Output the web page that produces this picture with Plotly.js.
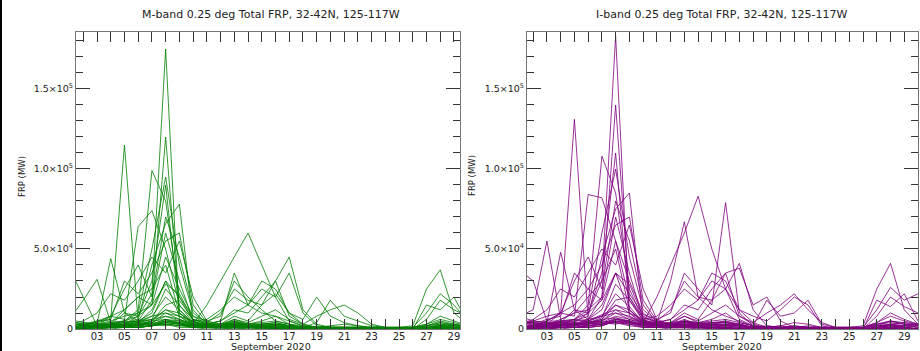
<!DOCTYPE html>
<html>
<head>
<meta charset="utf-8">
<script src="https://cdn.plot.ly/plotly-3.0.1.min.js"></script>
<style>html,body{margin:0;padding:0;background:#fff;}#chart{width:920px;height:351px;}</style>
</head>
<body>
<div id="chart"></div>
<script>
// Days of September 2020 (one value per day), FRP in units of 10^3 MW
const days = [1,2,3,4,5,6,7,8,9,10,11,12,13,14,15,16,17,18,19,20,21,22,23,24,25,26,27,28,29,30];
const tickDays = [2,3,4,5,6,7,8,9,10,11,12,13,14,15,16,17,18,19,20,21,22,23,24,25,26,27,28,29];
const tickDayLabels = ['','03','','05','','07','','09','','11','','13','','15','','17','','19','','21','','23','','25','','27','','29'];
const yTickVals = [0,50,100,150];
const yTickLabels = ['0','5.0×10<sup>4</sup>','1.0×10<sup>5</sup>','1.5×10<sup>5</sup>'];

// M-band grid-cell series
const M01 = [0,1,2,1,3,8,22,175,6,2,1,0,1,0,0,0,0,0,0,0,0,0,0,0,0,0,0,1,0,0];
const M02 = [2,3,4,6,115,4,12,30,8,2,1,1,0,1,0,0,0,0,0,0,0,0,0,0,0,0,1,2,1,0];
const M03 = [1,1,2,3,5,10,15,120,12,4,2,1,3,2,1,0,0,0,0,0,0,0,0,0,0,0,0,1,0,0];
const M04 = [38,20,2,3,2,1,2,3,1,1,0,0,0,0,0,0,0,0,0,0,0,0,0,0,0,0,0,0,0,0];
const M05 = [6,18,31,4,12,20,25,40,10,3,1,1,2,1,1,0,0,0,0,0,0,0,0,0,0,1,2,5,3,1];
const M06 = [2,4,3,44,10,5,18,60,30,5,2,1,4,2,1,1,0,0,0,0,0,0,0,0,0,0,0,2,1,0];
const M07 = [1,2,5,8,6,64,74,50,15,4,3,2,5,3,2,1,1,0,0,0,0,0,0,0,0,0,1,3,2,1];
const M08 = [0,1,3,4,5,12,99,80,20,5,2,1,1,1,0,0,0,0,0,0,0,0,0,0,0,0,0,0,0,0];
const M09 = [1,1,2,3,10,8,30,90,10,3,1,2,3,1,1,0,0,0,0,0,0,0,0,0,0,0,0,1,0,0];
const M10 = [0,1,2,2,4,6,40,66,78,4,3,2,2,1,1,1,0,0,0,0,0,0,0,0,0,0,0,1,1,0];
const M11 = [1,2,3,5,8,10,50,95,40,10,4,3,2,2,1,0,0,0,0,0,0,0,0,0,0,0,0,1,0,0];
const M12 = [3,5,10,22,18,30,45,35,55,20,5,3,5,2,1,0,0,0,0,0,0,0,0,0,0,0,0,0,0,0];
const M13 = [1,2,4,8,25,40,20,70,45,12,3,2,2,1,1,1,0,0,0,0,0,0,0,0,0,0,0,0,0,0];
const M14 = [2,3,5,6,30,22,35,55,60,15,4,2,3,2,1,1,0,0,0,0,0,0,0,0,0,0,1,2,1,0];
const M15 = [0,1,2,3,5,8,15,45,25,8,3,5,10,15,30,25,10,3,1,0,0,0,0,0,0,0,0,1,0,0];
const M16 = [1,1,2,3,4,5,8,20,12,3,15,30,45,60,40,20,5,2,1,1,0,0,0,0,0,0,0,0,0,0];
const M17 = [0,1,1,2,3,4,6,25,15,6,3,5,35,15,10,8,5,2,1,0,0,0,0,0,0,0,0,1,0,0];
const M18 = [0,0,1,2,3,5,10,30,20,8,5,8,30,20,12,5,3,1,1,0,0,0,0,0,0,0,0,1,0,0];
const M19 = [0,1,1,2,2,3,5,15,18,6,4,10,25,18,15,30,8,3,1,1,0,0,0,0,0,0,1,2,1,0];
const M20 = [0,0,1,1,2,3,4,10,8,5,6,12,20,15,25,20,35,10,2,1,0,0,0,0,0,0,0,1,0,0];
const M21 = [0,1,1,1,2,3,5,12,10,4,3,5,12,10,20,30,45,12,3,1,1,0,0,0,0,0,0,0,0,0];
const M22 = [1,1,1,2,2,3,4,8,6,3,2,3,8,5,15,22,10,6,20,8,4,2,1,0,0,0,0,1,0,0];
const M23 = [0,0,1,1,1,2,3,6,5,2,2,3,6,4,8,12,6,3,8,12,15,10,3,1,0,0,0,0,0,0];
const M24 = [0,0,0,1,1,1,2,5,4,2,1,2,4,3,5,8,3,1,4,18,8,5,2,1,0,0,0,1,0,0];
const M25 = [0,0,0,1,1,1,2,4,3,1,1,1,3,2,3,4,2,1,1,2,3,2,1,1,1,2,25,37,10,3];
const M26 = [0,0,1,1,1,2,3,6,4,2,1,1,2,2,2,3,2,1,1,1,1,1,0,0,0,1,10,22,15,5];
const M27 = [0,0,0,0,1,1,2,5,3,1,1,1,2,1,2,2,1,1,0,1,1,1,0,0,0,0,6,18,12,8];
const M28 = [1,0,0,1,1,1,2,4,3,1,1,1,2,1,1,2,1,0,0,0,0,0,0,0,0,0,15,12,20,4];
const M29 = [0,1,1,2,3,4,6,12,8,3,2,2,4,3,3,4,2,1,1,1,1,0,0,0,0,1,3,8,5,2];
const M30 = [5,3,2,8,12,20,15,28,22,6,3,2,6,3,4,5,3,2,1,1,1,1,0,0,0,0,0,2,1,0];
const ML1 = [3,2,2,3,2,3,2,4,3,2,2,2,3,2,2,2,1,1,1,1,1,1,1,1,1,1,2,3,2,2];
const ML2 = [2,3,1,2,3,2,4,3,2,3,1,2,2,3,1,2,2,1,1,1,1,1,1,1,1,1,1,2,3,1];
const ML3 = [1,1,3,2,1,4,3,2,4,1,2,1,1,2,2,1,1,0,1,0,1,0,1,0,1,0,1,1,1,2];
const ML4 = [4,2,2,1,2,2,5,6,3,2,3,2,2,1,3,3,2,1,0,1,0,1,0,1,0,1,2,4,2,1];
const ML5 = [2,1,1,1,1,1,2,3,2,1,1,1,1,1,1,1,1,1,1,1,1,1,1,1,1,1,1,1,1,1];
const ML6 = [6,4,3,3,4,5,6,8,5,3,2,3,4,3,3,3,2,1,1,1,1,1,0,0,0,1,2,4,3,2];
const ML7 = [1,2,2,2,3,3,3,5,4,2,2,2,3,2,2,2,1,1,1,1,1,1,1,1,1,1,1,2,2,1];
const ML8 = [3,3,2,4,5,4,8,10,6,3,2,2,3,2,2,3,2,1,1,1,1,1,1,1,1,1,3,6,4,2];

// I-band grid-cell series
const I01 = [1,2,3,2,4,10,30,183,8,3,1,1,1,0,0,0,0,0,0,0,0,0,0,0,0,0,0,1,0,0];
const I02 = [3,5,8,10,131,6,15,35,10,3,2,1,1,1,0,0,0,0,0,0,0,0,0,0,0,0,1,2,1,0];
const I03 = [1,2,3,4,6,12,20,140,20,5,2,1,3,2,1,0,0,0,0,0,0,0,0,0,0,0,0,1,0,0];
const I04 = [37,30,5,5,3,2,3,4,2,1,1,0,0,0,0,0,0,0,0,0,0,0,0,0,0,0,0,0,0,0];
const I05 = [8,12,55,6,10,20,30,50,12,4,2,1,2,1,1,0,0,0,0,0,0,0,0,0,0,1,2,5,3,1];
const I06 = [2,5,4,48,12,6,20,70,35,6,2,1,5,2,1,1,0,0,0,0,0,0,0,0,0,0,0,3,1,0];
const I07 = [1,2,5,10,8,84,82,55,18,5,4,3,6,3,2,1,1,0,0,0,0,0,0,0,0,0,1,3,2,1];
const I08 = [0,1,3,5,6,15,108,85,25,6,3,1,1,1,0,0,0,0,0,0,0,0,0,0,0,0,0,0,0,0];
const I09 = [1,1,2,4,12,10,35,110,12,4,1,2,3,1,1,0,0,0,0,0,0,0,0,0,0,0,0,1,0,0];
const I10 = [0,1,2,3,5,8,45,75,85,5,3,2,2,1,1,1,0,0,0,0,0,0,0,0,0,0,0,1,1,0];
const I11 = [1,2,3,6,10,12,60,100,45,12,5,3,2,2,1,0,0,0,0,0,0,0,0,0,0,0,0,1,0,0];
const I12 = [3,6,12,25,20,35,50,40,65,25,6,3,5,2,1,0,0,0,0,0,0,0,0,0,0,0,0,0,0,0];
const I13 = [1,2,5,10,30,45,25,80,55,15,4,2,2,1,1,1,0,0,0,0,0,0,0,0,0,0,0,0,0,0];
const I14 = [2,3,6,8,35,25,40,65,70,18,5,2,3,2,1,1,0,0,0,0,0,0,0,0,0,0,1,2,1,0];
const I15 = [0,1,2,3,6,10,18,55,30,10,4,6,12,18,35,30,12,4,1,0,0,0,0,0,0,0,0,1,0,0];
const I16 = [0,1,2,3,4,5,8,22,14,4,20,40,60,83,50,25,6,2,1,1,0,0,0,0,0,0,0,0,0,0];
const I17 = [0,1,1,2,3,4,7,28,18,7,4,30,67,20,12,8,5,2,1,0,0,0,0,0,0,0,0,1,0,0];
const I18 = [0,0,1,2,3,6,12,35,22,9,6,10,35,25,15,79,10,2,1,0,0,0,0,0,0,0,0,1,0,0];
const I19 = [0,1,1,2,2,4,6,18,20,7,5,12,30,20,18,35,8,3,1,1,0,0,0,0,0,0,1,2,1,0];
const I20 = [0,0,1,1,2,3,5,12,10,6,8,15,25,18,30,25,41,12,2,1,0,0,0,0,0,0,0,1,0,0];
const I21 = [0,1,1,1,2,4,6,15,12,5,4,6,15,12,25,35,38,15,20,5,1,0,0,0,0,0,0,0,0,0];
const I22 = [1,1,1,2,3,4,5,10,8,4,3,4,10,6,18,25,12,8,5,12,20,15,2,0,0,0,0,1,0,0];
const I23 = [0,0,1,1,1,2,4,8,6,3,2,4,8,5,10,15,8,4,10,15,22,12,4,1,0,0,0,0,0,0];
const I24 = [0,0,0,1,1,2,3,6,5,2,1,3,5,4,6,10,4,2,18,8,10,18,3,1,0,0,0,1,0,0];
const I25 = [0,0,0,1,1,1,2,5,4,2,1,2,4,3,4,5,3,1,1,2,4,3,1,1,1,2,25,41,12,3];
const I26 = [0,0,1,1,1,2,3,7,5,2,1,1,3,2,2,3,2,1,1,1,1,1,0,0,0,1,12,26,18,22];
const I27 = [0,0,0,0,1,1,2,6,4,1,1,1,2,1,2,2,1,1,0,1,1,1,0,0,0,0,8,20,14,10];
const I28 = [1,0,0,1,1,1,2,5,3,1,1,1,2,1,1,2,1,0,0,0,0,0,0,0,0,0,18,14,22,5];
const I29 = [0,1,1,2,3,5,8,15,10,4,2,2,5,3,3,5,2,1,1,1,1,0,0,0,0,1,4,10,6,3];
const I30 = [6,4,3,10,15,25,18,35,28,8,4,3,8,4,5,6,4,2,1,1,1,1,0,0,0,0,0,3,1,0];
const IL1 = [4,3,3,4,3,4,3,5,4,3,3,3,4,3,3,3,2,1,2,1,2,1,1,1,1,1,3,4,3,3];
const IL2 = [3,4,2,3,4,3,5,4,3,4,2,3,3,4,2,3,3,1,1,2,1,2,1,1,1,1,2,3,4,2];
const IL3 = [2,2,4,3,2,5,4,3,5,2,3,2,2,3,3,2,2,0,1,0,1,0,1,0,1,0,2,2,2,3];
const IL4 = [5,3,3,2,3,3,6,7,4,3,4,3,3,2,4,4,3,1,0,1,0,1,0,1,0,1,3,5,3,2];
const IL5 = [2,2,2,2,2,2,3,4,3,2,2,2,2,2,2,2,2,1,1,1,1,1,1,1,1,1,2,2,2,2];
const IL6 = [8,5,4,4,5,6,8,10,6,4,3,4,5,4,4,4,3,1,1,1,2,1,0,0,0,1,3,5,4,3];
const IL7 = [1,2,2,3,3,3,4,6,5,3,2,3,3,2,3,2,2,1,1,1,1,1,1,1,1,1,2,3,2,1];
const IL8 = [4,4,3,5,6,5,9,12,7,4,3,3,4,3,3,4,2,1,1,1,1,1,1,1,1,1,4,8,5,3];

const mSeries = [M01,M02,M03,M04,M05,M06,M07,M08,M09,M10,M11,M12,M13,M14,M15,M16,M17,M18,M19,M20,M21,M22,M23,M24,M25,M26,M27,M28,M29,M30,ML1,ML2,ML3,ML4,ML5,ML6,ML7,ML8];
const iSeries = [I01,I02,I03,I04,I05,I06,I07,I08,I09,I10,I11,I12,I13,I14,I15,I16,I17,I18,I19,I20,I21,I22,I23,I24,I25,I26,I27,I28,I29,I30,IL1,IL2,IL3,IL4,IL5,IL6,IL7,IL8];

const traces = [];
mSeries.forEach(s => traces.push({x: days, y: s, type: 'scatter', mode: 'lines', xaxis: 'x', yaxis: 'y',
  line: {color: 'rgba(0,128,0,0.8)', width: 1}, hoverinfo: 'skip', showlegend: false}));
iSeries.forEach(s => traces.push({x: days, y: s, type: 'scatter', mode: 'lines', xaxis: 'x2', yaxis: 'y2',
  line: {color: 'rgba(128,0,128,0.8)', width: 1}, hoverinfo: 'skip', showlegend: false}));

const W = 842, H = 297; // plot area in px (l=76, t=32)
function px(xpx){ return (xpx - 76) / W; }
function py(ypx){ return (329 - ypx) / H; }

const xfont = {family: 'DejaVu Sans, sans-serif', size: 10, color: '#222'};
const yfont = {family: 'DejaVu Sans, sans-serif', size: 9.5, color: '#222'};
function xAxis(domain, range, anchor){
  return {domain: domain, range: range, anchor: anchor, tickvals: tickDays, ticktext: tickDayLabels,
    ticks: 'inside', ticklen: 10, tickcolor: '#333', tickwidth: 1, showline: true, linecolor: '#777', linewidth: 1,
    mirror: 'allticks', showgrid: false, zeroline: false, tickfont: xfont, ticklabelstandoff: -2, fixedrange: true};
}
function yAxis(anchor){
  return {anchor: anchor, range: [0, 185.6], tickvals: yTickVals, ticktext: yTickLabels,
    ticks: 'inside', ticklen: 14, tickcolor: '#333', tickwidth: 1, showline: true, linecolor: '#777', linewidth: 1,
    minor: {dtick: 10, tick0: 0, ticks: 'inside', ticklen: 7, tickcolor: '#333', showgrid: false},
    mirror: 'allticks', showgrid: false, zeroline: false, tickfont: yfont, fixedrange: true};
}
function ann(text, xp, yp, f, angle){
  return {text: text, xref: 'paper', yref: 'paper', x: px(xp), y: py(yp), xanchor: 'center', yanchor: 'middle',
    showarrow: false, font: f, textangle: angle || 0};
}
const titleFont = {family: 'DejaVu Sans, sans-serif', size: 11, color: '#222'};
const subFont = {family: 'DejaVu Sans, sans-serif', size: 9.5, color: '#222'};
const labFont = {family: 'DejaVu Sans, sans-serif', size: 8.5, color: '#222'};

const layout = {
  width: 920, height: 351,
  margin: {l: 76, r: 2, t: 32, b: 22},
  paper_bgcolor: '#fff', plot_bgcolor: '#fff',
  font: xfont,
  xaxis: xAxis([0, px(460)], [1.47, 29.44], 'y'),
  yaxis: yAxis('x'),
  xaxis2: xAxis([px(527), 1], [1.55, 30.0], 'y2'),
  yaxis2: yAxis('x2'),
  annotations: [
    ann('M-band 0.25 deg Total FRP, 32-42N, 125-117W', 271, 15, titleFont),
    ann('I-band 0.25 deg Total FRP, 32-42N, 125-117W', 722, 15, titleFont),
    ann('September 2020', 271, 346, subFont),
    ann('September 2020', 722, 346, subFont),
    ann('FRP (MW)', 22, 176, labFont, -90),
    ann('FRP (MW)', 472, 176, labFont, -90)
  ],
  shapes: [
    {type: 'line', xref: 'paper', yref: 'paper', x0: px(1), x1: px(1), y0: py(351), y1: py(0),
      line: {color: '#000', width: 2}}
  ]
};

Plotly.newPlot('chart', traces, layout, {staticPlot: true, displayModeBar: false});
</script>
</body>
</html>
